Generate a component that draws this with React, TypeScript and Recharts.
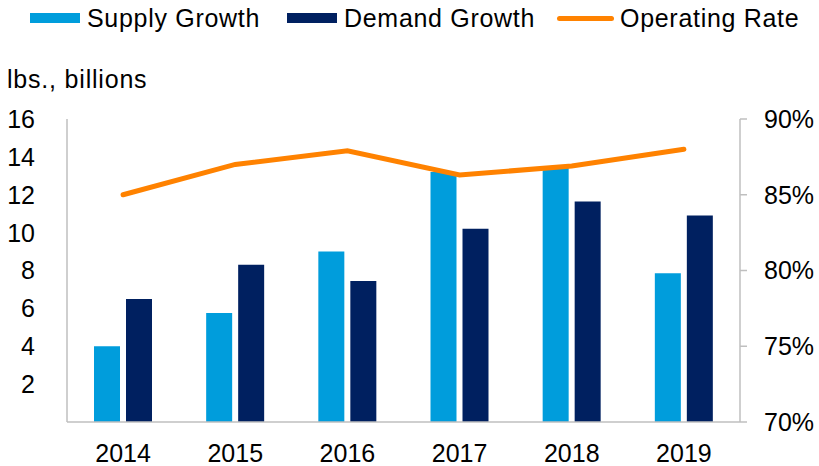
import { Bar, ComposedChart, Label, Legend, Line, XAxis, YAxis } from "recharts"

const FONT = '"Liberation Sans", Arial, sans-serif'
const AXIS_GRAY = "#BFBFBF"

const years = ["2014", "2015", "2016", "2017", "2018", "2019"]
const supplyGrowth = [4.0, 5.75, 9.0, 13.2, 13.5, 7.85]
const demandGrowth = [6.5, 8.3, 7.45, 10.2, 11.65, 10.9]
const operatingRate = [85.0, 87.0, 87.9, 86.3, 86.9, 88.0]
const leftTicks = [2, 4, 6, 8, 10, 12, 14, 16]
const rightTicks = [70, 75, 80, 85, 90]

const data = years.map((year, i) => ({
    year,
    supply: supplyGrowth[i],
    demand: demandGrowth[i],
    rate: operatingRate[i],
}))

// legend item x offsets
const legendLeft: Record<string, number> = {
    "Supply Growth": 30,
    "Demand Growth": 287,
    "Operating Rate": 557,
}

function renderLegend(props: any) {
    const { payload = [] } = props
    return (
        <div style={{ position: "relative", width: 819, height: 45, fontFamily: FONT }}>
            {payload.map((entry: any) => {
                const isLine = entry.type === "line"
                return (
                    <div
                        key={entry.value}
                        style={{
                            position: "absolute",
                            left: legendLeft[entry.value] ?? 0,
                            top: 3,
                            display: "flex",
                            alignItems: "center",
                            height: 30,
                        }}
                    >
                        {isLine ? (
                            <span style={{ width: 57, height: 5, borderRadius: 3, background: entry.color, marginRight: 6 }} />
                        ) : (
                            <span style={{ width: 50, height: 10, background: entry.color, marginRight: 7 }} />
                        )}
                        <span style={{ fontSize: 25, letterSpacing: 0.7, color: "#000", lineHeight: "30px" }}>{entry.value}</span>
                    </div>
                )
            })}
        </div>
    )
}

export default function App() {
    return (
        <div style={{ position: "absolute", left: 0, top: 0, width: 819, height: 466, fontFamily: FONT }}>
            <ComposedChart
                width={819}
                height={466}
                data={data}
                margin={{ top: 74, right: 0, bottom: 0, left: 0 }}
                barGap={6}
            >
                <Legend
                    verticalAlign="top"
                    align="left"
                    height={45}
                    content={renderLegend}
                    wrapperStyle={{ top: 0, left: 0, height: 45 }}
                />
                <XAxis
                    dataKey="year"
                    interval={0}
                    height={44}
                    axisLine={{ stroke: AXIS_GRAY, strokeWidth: 1.5 }}
                    tickLine={false}
                    tickSize={0}
                    tickMargin={22}
                    tick={{ fontSize: 25, fill: "#000", fontFamily: FONT }}
                />
                <YAxis
                    yAxisId="left"
                    width={67}
                    domain={[0, 16]}
                    ticks={leftTicks}
                    interval={0}
                    axisLine={{ stroke: AXIS_GRAY, strokeWidth: 1.5 }}
                    tickLine={false}
                    tickSize={0}
                    tickMargin={32}
                    tick={{ fontSize: 25, fill: "#000", fontFamily: FONT }}
                >
                    <Label
                        content={({ viewBox }: any) => (
                            <text
                                x={viewBox.x + 7}
                                y={viewBox.y - 31}
                                fontSize={25}
                                letterSpacing={0.8}
                                fill="#000"
                                fontFamily={FONT}
                            >
                                lbs., billions
                            </text>
                        )}
                    />
                </YAxis>
                <YAxis
                    yAxisId="right"
                    orientation="right"
                    width={79}
                    domain={[70, 90]}
                    ticks={rightTicks}
                    interval={0}
                    tickFormatter={(v) => `${v}%`}
                    axisLine={{ stroke: AXIS_GRAY, strokeWidth: 1.5 }}
                    tickLine={{ stroke: AXIS_GRAY, strokeWidth: 1.5 }}
                    tickSize={7}
                    tickMargin={17}
                    tick={{ fontSize: 25, fill: "#000", fontFamily: FONT }}
                />
                <Bar yAxisId="left" dataKey="supply" name="Supply Growth" fill="#009DDC" barSize={26} isAnimationActive={false} />
                <Bar yAxisId="left" dataKey="demand" name="Demand Growth" fill="#002060" barSize={26} isAnimationActive={false} />
                <Line
                    yAxisId="right"
                    type="linear"
                    dataKey="rate"
                    name="Operating Rate"
                    stroke="#FF8200"
                    strokeWidth={5}
                    strokeLinecap="round"
                    dot={false}
                    activeDot={false}
                    legendType="line"
                    isAnimationActive={false}
                />
            </ComposedChart>
        </div>
    )
}
